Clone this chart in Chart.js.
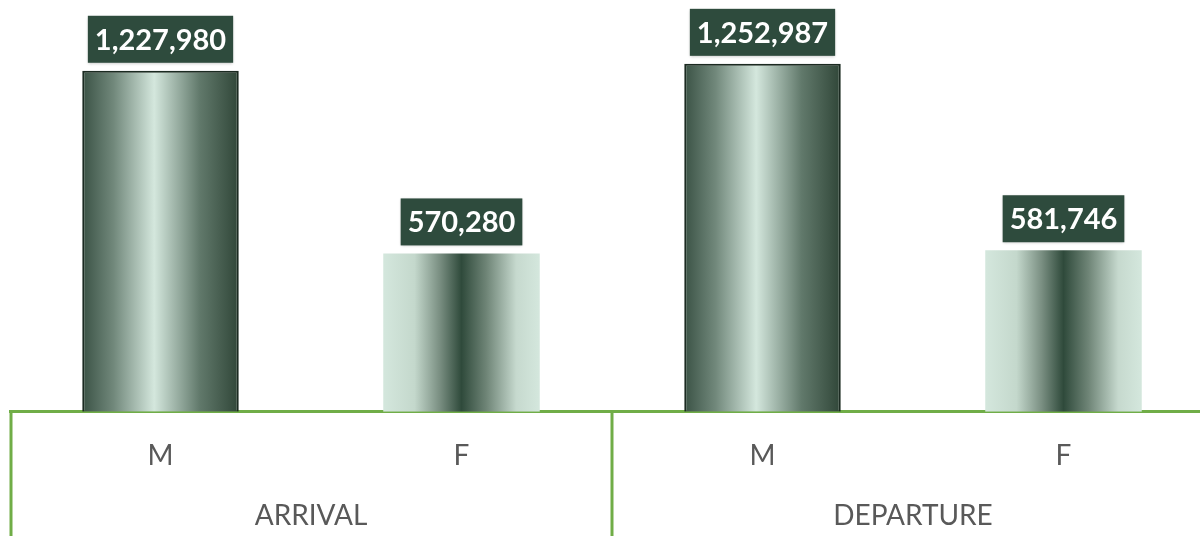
<!DOCTYPE html>
<html>
<head>
<meta charset="utf-8">
<script src="https://cdn.jsdelivr.net/npm/chart.js@4/dist/chart.umd.min.js"></script>
<style>
  html, body { margin: 0; padding: 0; background: #fff; overflow: hidden; }
  #wrap { width: 1214px; height: 536px; }
</style>
</head>
<body>
<div id="wrap"><canvas id="chart1"></canvas></div>
<script>
"use strict";

const categories = ['M', 'F', 'M', 'F'];
const groups = ['ARRIVAL', 'DEPARTURE'];
const passengers = [1227980, 570280, 1252987, 581746];
const yMax = 1400000;

const GREEN = '#70ad47';
const DARK = '#2e4b3d';
const LIGHT = '#d4e7dd';

// gradient per bar, M = dark edges / light middle, F = light edges / dark middle
function barFill(ctx) {
    const chart = ctx.chart;
    const area = chart.chartArea;
    if (!area || !chart.scales.x) return DARK;
    const i = ctx.dataIndex;
    const cx = chart.scales.x.getPixelForValue(i);
    const w = area.width / categories.length * 0.52;
    const g = chart.ctx.createLinearGradient(cx - w / 2, 0, cx + w / 2, 0);
    if (categories[i] === 'M') {
        g.addColorStop(0, '#3a5245');
        g.addColorStop(0.2, '#71887b');
        g.addColorStop(0.46, LIGHT);
        g.addColorStop(0.75, '#61796b');
        g.addColorStop(1, '#304638');
    } else {
        g.addColorStop(0, LIGHT);
        g.addColorStop(0.2, '#c4d8cc');
        g.addColorStop(0.36, '#7a8f82');
        g.addColorStop(0.5, '#2f4a3b');
        g.addColorStop(0.66, '#6f8577');
        g.addColorStop(0.85, '#c6d9ce');
        g.addColorStop(1, LIGHT);
    }
    return g;
}

const valueBoxes = {
    id: 'valueBoxes',
    afterDatasetsDraw(chart) {
        const ctx = chart.ctx;
        const meta = chart.getDatasetMeta(0);
        ctx.save();
        ctx.font = 'bold 29px Lato, "Open Sans", sans-serif';
        ctx.textAlign = 'center';
        ctx.textBaseline = 'middle';
        meta.data.forEach((bar, i) => {
            const txt = passengers[i].toLocaleString('en-US');
            const tw = ctx.measureText(txt).width;
            const bw = tw + 14;
            const bh = 47;
            const bottom = bar.y - 8;
            ctx.shadowColor = 'rgba(0,0,0,0.25)';
            ctx.shadowBlur = 3;
            ctx.shadowOffsetY = 1;
            ctx.fillStyle = DARK;
            ctx.fillRect(bar.x - bw / 2, bottom - bh, bw, bh);
            ctx.shadowColor = 'transparent';
            ctx.fillStyle = '#ffffff';
            ctx.fillText(txt, bar.x, bottom - bh / 2 + 1);
        });
        ctx.restore();
    }
};

// green dividers between the ARRIVAL / DEPARTURE groups, under the axis line
const groupDividers = {
    id: 'groupDividers',
    afterDraw(chart) {
        const x = chart.scales.x;
        const ctx = chart.ctx;
        const mid = (x.getPixelForValue(1) + x.getPixelForValue(2)) / 2;
        ctx.save();
        ctx.strokeStyle = GREEN;
        ctx.lineWidth = 3;
        [x.left + 1, mid, x.right].forEach(px => {
            ctx.beginPath();
            ctx.moveTo(px, chart.chartArea.bottom);
            ctx.lineTo(px, chart.height);
            ctx.stroke();
        });
        ctx.restore();
    }
};

document.addEventListener("DOMContentLoaded", () => {

    const data = {
        labels: categories,
        datasets: [{
            label: 'Passengers',
            data: passengers,
            backgroundColor: barFill,
            borderColor: categories.map(c => c === 'M' ? '#1b2a21' : 'rgba(0,0,0,0)'),
            borderWidth: categories.map(c => c === 'M' ? 2 : 0),
            borderSkipped: 'bottom',
            categoryPercentage: 1,
            barPercentage: 0.52
        }]
    };

    const config = {
        type: 'bar',
        data: data,
        options: {
            responsive: true,
            maintainAspectRatio: false,
            animation: false,
            layout: { padding: { top: 23, left: 10, right: 0, bottom: 3 } },
            plugins: {
                legend: { display: false },
                tooltip: { enabled: false }
            },
            scales: {
                y: {
                    display: false,
                    min: 0,
                    max: yMax
                },
                x: {
                    offset: true,
                    grid: { display: false, drawTicks: false },
                    border: { display: true, color: GREEN, width: 3 },
                    ticks: {
                        color: '#595959',
                        padding: 27,
                        font: { family: 'Lato, "Open Sans", sans-serif', size: 28, lineHeight: 1.2 }
                    }
                },
                x2: {
                    type: 'category',
                    position: 'bottom',
                    labels: groups,
                    offset: true,
                    grid: { display: false, drawTicks: false },
                    border: { display: false },
                    ticks: {
                        color: '#595959',
                        padding: 0,
                        font: { family: 'Lato, "Open Sans", sans-serif', size: 28, lineHeight: 1.2 }
                    }
                }
            }
        },
        plugins: [valueBoxes, groupDividers]
    };

    new Chart(document.getElementById('chart1'), config);

}, { once: true });
</script>
</body>
</html>
